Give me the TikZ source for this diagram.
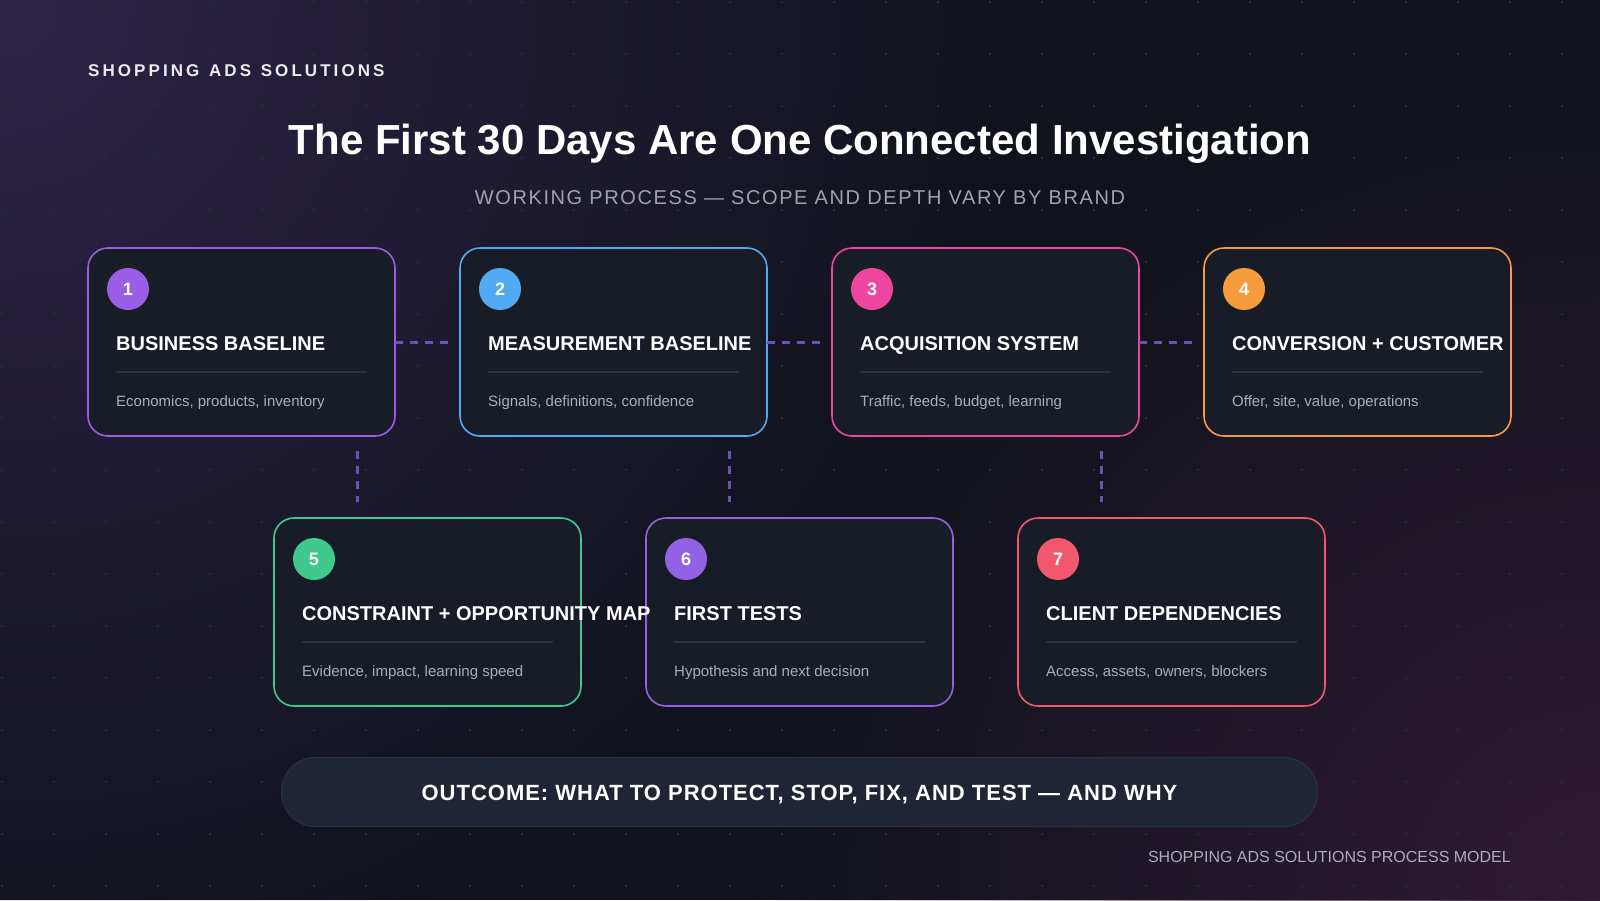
\documentclass[tikz,border=0pt]{standalone}
\usepackage{fontspec}
\setmainfont{Liberation Sans}
\newfontfamily\kickerfont[LetterSpace=18, WordSpace=1.25]{Liberation Sans}
\newfontfamily\subfont[LetterSpace=8]{Liberation Sans}
\newfontfamily\pillfont[LetterSpace=4.5]{Liberation Sans}
\usepackage{tikz}
\usetikzlibrary{positioning,fadings}

\definecolor{bgbase}{HTML}{10131C}
\definecolor{tintA}{HTML}{2E2348}
\definecolor{tintB}{HTML}{2F1B33}
\definecolor{dotc}{HTML}{2B2F3B}
\definecolor{cardbg}{HTML}{181C27}
\definecolor{rulec}{HTML}{2D323F}
\definecolor{desc}{HTML}{A9AEBA}
\definecolor{subc}{HTML}{9EA3AE}
\definecolor{linkc}{HTML}{7150B5}
\definecolor{pillbg}{HTML}{1F2534}
\definecolor{pillline}{HTML}{2B3242}
\definecolor{tone1}{HTML}{9B5DE5}
\definecolor{tone2}{HTML}{52ABF2}
\definecolor{tone3}{HTML}{EE469F}
\definecolor{tone4}{HTML}{F59C3C}
\definecolor{tone5}{HTML}{40C98E}
\definecolor{tone6}{HTML}{9262E6}
\definecolor{tone7}{HTML}{F1586E}

\tikzfading[name = glow, inner color = transparent!0, outer color = transparent!100]

\begin{document}
\begin{tikzpicture}[x = 1pt, y = -1pt,
card/.style = {draw = #1, line width = 1.6pt, fill = cardbg, rounded corners = 20pt, minimum width = 307pt, minimum height = 188pt, inner sep = 0pt, outer sep = 0pt},
num/.style = {circle, fill = #1, minimum size = 42pt, inner sep = 0pt, text = white, font = \bfseries\fontsize{18}{18}\selectfont},
ttl/.style = {anchor = base west, inner sep = 0pt, text = white, font = \bfseries\fontsize{20}{24}\selectfont},
dsc/.style = {anchor = base west, inner sep = 0pt, text = desc, font = \fontsize{15}{18}\selectfont},
rule/.style = {draw = rulec, line width = 1.2pt},
link/.style = {draw = linkc, line width = 3pt, dash pattern = on 7.5pt off 7.5pt},
pill/.style = {draw = pillline, line width = 1pt, fill = pillbg, rounded corners = 34pt, minimum width = 1036pt, minimum height = 69pt, text = white, font = \pillfont\bfseries\fontsize{22}{22}\selectfont, text height = 16pt, text depth = 0pt}]
\useasboundingbox (0,0) rectangle (1600,900);
\fill[bgbase] (0,0) rectangle (1600,900);
\fill[tintA, path fading = glow] (0,0) circle (1000);
\fill[tintB, path fading = glow] (1600,900) circle (850);
\foreach \i in {0,...,30}
\foreach \j in {0,...,17}
\fill[dotc] (2+52*\i, 2+52*\j) circle (1.3);

\node[anchor = base west, inner sep = 0pt, text = white!92!black, font = \kickerfont\bfseries\fontsize{17}{17}\selectfont] (kicker) at (88,76) {SHOPPING ADS SOLUTIONS};
\node[anchor = base, inner sep = 0pt, text = white, font = \bfseries\fontsize{42}{50}\selectfont] (title) at (800,154) {The First 30 Days Are One Connected Investigation};
\node[anchor = base, inner sep = 0pt, text = subc, font = \subfont\fontsize{20}{24}\selectfont] (sub) at (800,204) {WORKING PROCESS — SCOPE AND DEPTH VARY BY BRAND};

\node[card = tone1] (c1) at (241.5,342) {};
\node[card = tone2, right = 65pt of c1] (c2) {};
\node[card = tone3, right = 65pt of c2] (c3) {};
\node[card = tone4, right = 65pt of c3] (c4) {};
\node[card = tone5] (c5) at (427.5,612) {};
\node[card = tone6, right = 65pt of c5] (c6) {};
\node[card = tone7, right = 65pt of c6] (c7) {};

\foreach \n/\col/\head/\body in {1/tone1/BUSINESS BASELINE/{Economics, products, inventory},
2/tone2/MEASUREMENT BASELINE/{Signals, definitions, confidence},
3/tone3/ACQUISITION SYSTEM/{Traffic, feeds, budget, learning},
4/tone4/CONVERSION + CUSTOMER/{Offer, site, value, operations},
5/tone5/CONSTRAINT + OPPORTUNITY MAP/{Evidence, impact, learning speed},
6/tone6/FIRST TESTS/{Hypothesis and next decision},
7/tone7/CLIENT DEPENDENCIES/{Access, assets, owners, blockers}}
{
\node[num = \col] (n\n) at ([shift = {(40,41)}]c\n.north west) {\n};
\node[ttl] (t\n) at ([shift = {(28,102)}]c\n.north west) {\head};
\draw[rule] ([shift = {(28,124)}]c\n.north west) -- ([shift = {(-28,124)}]c\n.north east);
\node[dsc] (b\n) at ([shift = {(28,158)}]c\n.north west) {\body};
}

\draw[link, shorten > = 12pt] (c1.east) -- (c2.west);
\draw[link, shorten > = 12pt] (c2.east) -- (c3.west);
\draw[link, shorten > = 12pt] (c3.east) -- (c4.west);
\foreach \n in {1,2,3}
{
\coordinate (d\n a) at ([shift = {(-38,15)}]c\n.south east);
\coordinate (d\n b) at ([shift = {(-38,66)}]c\n.south east);
\draw[link] (d\n a) -- (d\n b);
}

\node[pill] (out) at (799.5,792) {OUTCOME: WHAT TO PROTECT, STOP, FIX, AND TEST — AND WHY};
\node[anchor = base east, inner sep = 0pt, text = desc, font = \fontsize{16}{16}\selectfont] (foot) at (1511,862) {SHOPPING ADS SOLUTIONS PROCESS MODEL};
\end{tikzpicture}
\end{document}
